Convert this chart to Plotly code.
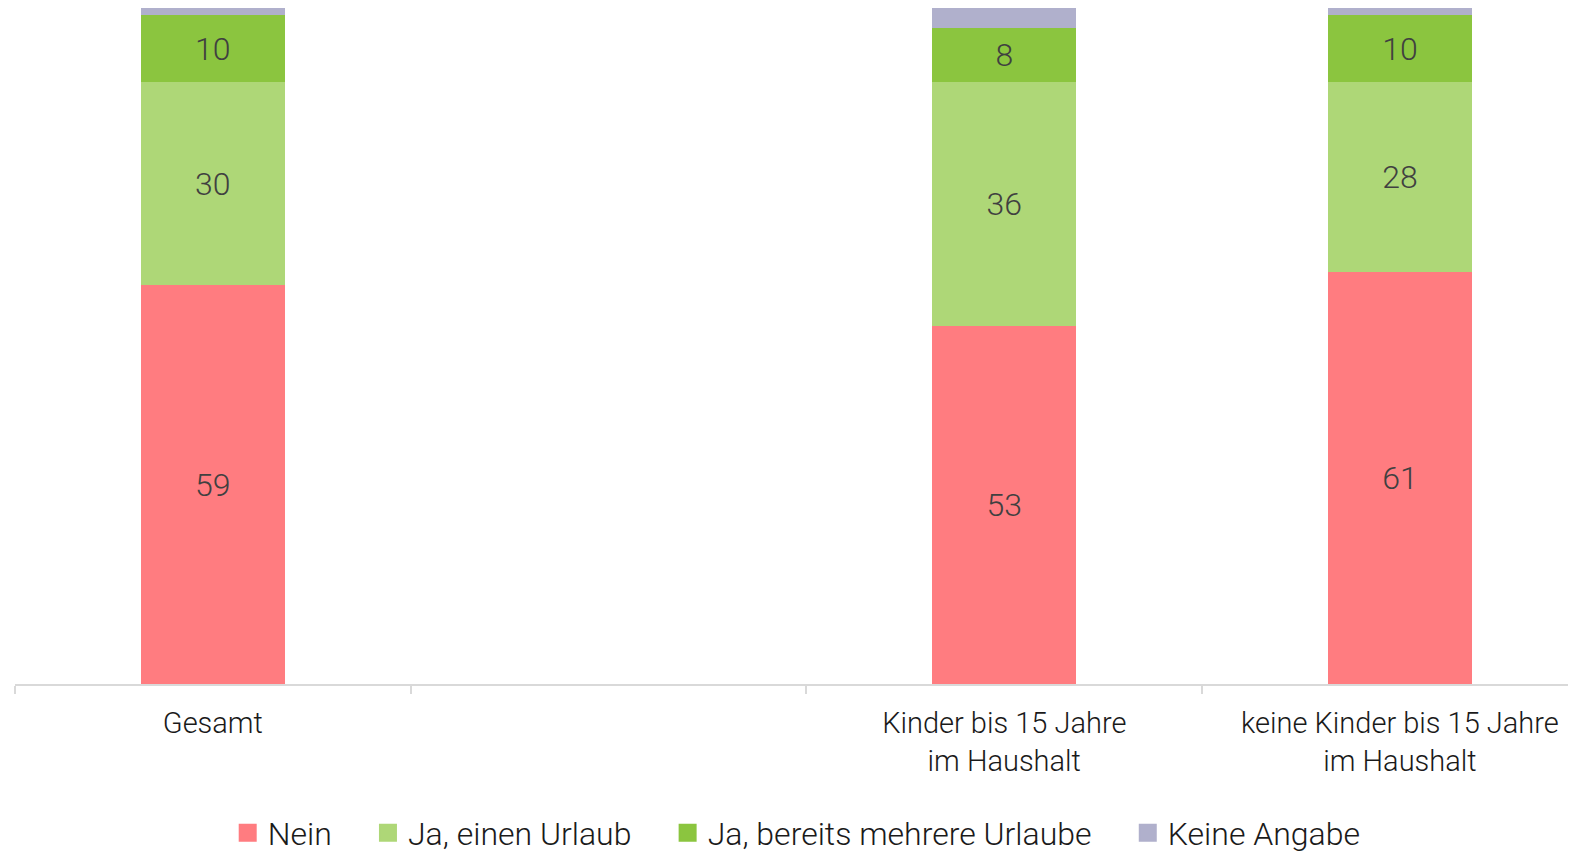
import plotly.graph_objects as go

categories = ["Gesamt", " ", "Kinder bis 15 Jahre<br>im Haushalt", "keine Kinder bis 15 Jahre<br>im Haushalt"]
bar_categories = ["Gesamt", "Kinder bis 15 Jahre<br>im Haushalt", "keine Kinder bis 15 Jahre<br>im Haushalt"]
series_names = ["Nein", "Ja, einen Urlaub", "Ja, bereits mehrere Urlaube", "Keine Angabe"]
nein = [59, 53, 61]
ja_einen = [30, 36, 28]
ja_mehrere = [10, 8, 10]
keine_angabe = [1, 3, 1]
colors = ["#FF7C80", "#AED777", "#8BC53F", "#B0B0CC"]
show_labels = [True, True, True, False]

fig = go.Figure()
for name, vals, col, lab in zip(series_names, [nein, ja_einen, ja_mehrere, keine_angabe], colors, show_labels):
    fig.add_trace(go.Bar(
        name=name, x=bar_categories, y=vals, marker=dict(color=col, line=dict(width=0)),
        width=0.365, showlegend=False,
        text=[str(v) for v in vals] if lab else None,
        textposition="inside" if lab else "none",
        insidetextanchor="middle",
        textfont=dict(family="Roboto", size=32, color="#404040", weight=300),
        hoverinfo="name+y",
    ))

# legend entries (square markers, larger than the default bar swatch)
pad = "\u00a0" * 4
for i, (name, col) in enumerate(zip(series_names, colors)):
    fig.add_trace(go.Scatter(
        name=name + (pad if i < len(series_names) - 1 else ""), x=[None], y=[None], mode="markers",
        marker=dict(symbol="square", size=16, color=col, line=dict(color=col, width=2)),
        showlegend=True, hoverinfo="skip",
    ))

fig.update_layout(
    barmode="stack",
    width=1568, height=844,
    margin=dict(l=7, r=0, t=0, b=168, autoexpand=False),
    paper_bgcolor="white", plot_bgcolor="white",
    font=dict(family="Roboto", size=29, color="#1a1a1a", weight=300),
    showlegend=True,
    legend=dict(orientation="h", x=0.503, xanchor="center", xref="container",
                y=0.0225, yanchor="middle", yref="container",
                font=dict(family="Roboto", size=32, color="#1a1a1a", weight=300),
                traceorder="normal", itemwidth=30, tracegroupgap=0),
)
fig.update_xaxes(
    type="category", categoryorder="array", categoryarray=categories,
    range=[-0.5, -0.5 + 1561 / 395.7], automargin=False,
    showline=True, linecolor="#D9D9D9", linewidth=2,
    ticks="outside", tickson="boundaries", ticklen=8, tickcolor="#D9D9D9", tickwidth=2,
    ticklabelstandoff=12,
    showgrid=False, tickfont=dict(family="Roboto", size=29, color="#1a1a1a", weight=300),
)
fig.update_yaxes(range=[0, 100], visible=False, showgrid=False)

fig.write_html("out.html")
